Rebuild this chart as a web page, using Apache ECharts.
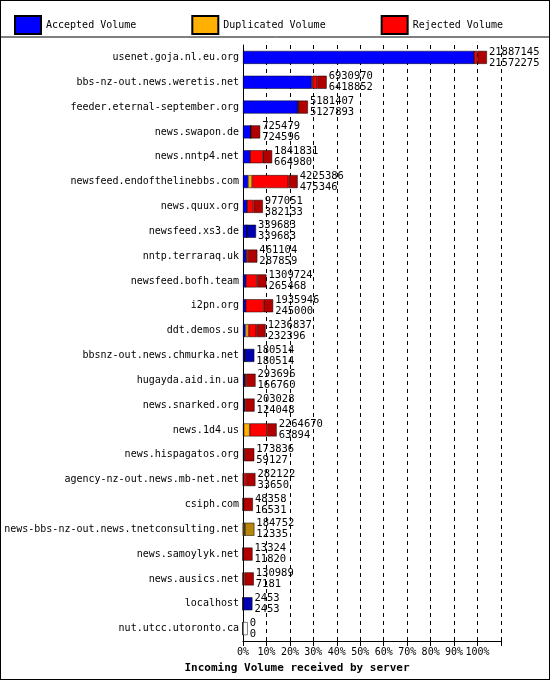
<!DOCTYPE html>
<html>
<head>
<meta charset="utf-8">
<script src="https://cdn.jsdelivr.net/npm/echarts@6/dist/echarts.min.js"></script>
<style>
html,body{margin:0;padding:0;background:#fff}
#chart{width:548px;height:678px;border:1px solid #000}
</style>
</head>
<body>
<div id="chart"></div>
<script>
var servers = ['usenet.goja.nl.eu.org','bbs-nz-out.news.weretis.net','feeder.eternal-september.org','news.swapon.de','news.nntp4.net','newsfeed.endofthelinebbs.com','news.quux.org','newsfeed.xs3.de','nntp.terraraq.uk','newsfeed.bofh.team','i2pn.org','ddt.demos.su','bbsnz-out.news.chmurka.net','hugayda.aid.in.ua','news.snarked.org','news.1d4.us','news.hispagatos.org','agency-nz-out.news.mb-net.net','csiph.com','news-bbs-nz-out.news.tnetconsulting.net','news.samoylyk.net','news.ausics.net','localhost','nut.utcc.utoronto.ca'];
var offered = [21887145,6930970,5181407,725479,1841831,4225386,977051,339683,461104,1309724,1935946,1236837,180514,293696,203028,2264670,173836,282122,48358,184752,13324,130989,2453,0];
var accepted = [21572275,6418852,5127893,724596,664980,475346,382133,339683,287859,265468,245000,232396,180514,166760,124048,63894,59127,33650,16531,12335,11820,7181,2453,0];
var duplicated = [0,80000,0,0,0,370000,0,0,0,0,0,280000,0,0,0,560000,0,0,0,172417,0,0,0,0];

var maxV = Math.max.apply(null, offered);
function pct(v){ return v / maxV * 100; }
var accPct = accepted.map(pct);
var dupPct = duplicated.map(pct);
var rejPct = offered.map(function(o,i){ return pct(Math.max(0, o - accepted[i] - duplicated[i])); });
var sideColor = offered.map(function(o,i){
  if (o === 0) return '#ffffff';
  if (o - accepted[i] - duplicated[i] > 0) return '#b00000';
  if (duplicated[i] > 0) return '#b8860b';
  return '#0000b0';
});

var font = 'DejaVu Sans Mono';
var chart = echarts.init(document.getElementById('chart'));
chart.setOption({
  animation: false,
  textStyle: {fontFamily: font},
  legend: {
    top: 9, left: 8, itemGap: 55, itemWidth: 26, itemHeight: 18,
    icon: 'rect',
    textStyle: {fontFamily: font, fontSize: 10, color: '#000'},
    data: ['Accepted Volume','Duplicated Volume','Rejected Volume']
  },
  graphic: [{type:'line', shape:{x1:0,y1:36,x2:550,y2:36}, style:{stroke:'#000',lineWidth:1}}],
  grid: {left: 242, right: 48, top: 44, bottom: 34},
  xAxis: {
    type: 'value', min: 0, max: 110, interval: 10,
    axisLine: {show: true, lineStyle: {color: '#000'}},
    axisTick: {show: true, lineStyle: {color: '#000'}},
    axisLabel: {formatter: function(v){ return v > 100 ? '' : v + '%'; }, fontFamily: font, fontSize: 10, color: '#000', margin: 6},
    splitLine: {show: true, lineStyle: {color: '#000', type: [4,4]}},
    name: 'Incoming Volume received by server', nameLocation: 'middle', nameGap: 22,
    nameTextStyle: {fontFamily: font, fontSize: 11, fontWeight: 'bold', color: '#000', padding: [0,0,0,-150]}
  },
  yAxis: {
    type: 'category', inverse: true, data: servers,
    axisLine: {show: true, lineStyle: {color: '#000'}},
    axisTick: {show: false},
    axisLabel: {fontFamily: font, fontSize: 10, color: '#000', margin: 4}
  },
  series: [
    {name:'Accepted Volume', type:'bar', stack:'v', barWidth:13, data: accPct,
     itemStyle:{color:'#0000ff', borderColor:'#000', borderWidth:0.5}},
    {name:'Duplicated Volume', type:'bar', stack:'v', data: dupPct,
     itemStyle:{color:'#ffb000', borderColor:'#000', borderWidth:0.5}},
    {name:'Rejected Volume', type:'bar', stack:'v', data: rejPct,
     itemStyle:{color:'#ff0000', borderColor:'#000', borderWidth:0.5}},
    {name:'side', type:'bar', stack:'v', silent:true,
     data: offered.map(function(o,i){ return {value: o === 0 ? 2 : 4, itemStyle:{color: sideColor[i]}}; }),
     itemStyle:{borderColor:'#000', borderWidth:0.5},
     label:{show:true, position:'right', distance:2, fontFamily:font, fontSize:10.5, lineHeight:11, color:'#000',
       formatter:function(p){ return offered[p.dataIndex] + '\n' + accepted[p.dataIndex]; }}}
  ]
});
</script>
</body>
</html>
